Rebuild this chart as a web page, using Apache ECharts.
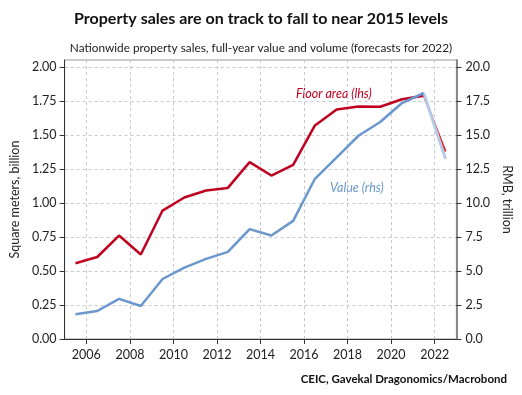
<!DOCTYPE html>
<html>
<head>
<meta charset="utf-8">
<script src="https://cdn.jsdelivr.net/npm/echarts@6/dist/echarts.min.js"></script>
<style>html,body{margin:0;padding:0;background:#fff}#c{width:522px;height:395px}</style>
</head>
<body>
<div id="c"></div>
<script>
// Data points sit mid-year (e.g. 2005.5 = full-year 2005)
var years = [2005.5,2006.5,2007.5,2008.5,2009.5,2010.5,2011.5,2012.5,2013.5,2014.5,2015.5,2016.5,2017.5,2018.5,2019.5,2020.5,2021.5];
var floorArea = [0.558,0.604,0.762,0.622,0.946,1.042,1.094,1.113,1.303,1.204,1.283,1.573,1.690,1.713,1.711,1.766,1.792];
var value = [1.82,2.06,2.96,2.43,4.42,5.26,5.90,6.42,8.09,7.62,8.70,11.80,13.37,14.97,15.98,17.38,18.12];
var forecastYears = [2021.5,2022.5];
var floorAreaForecast = [1.792,1.381];
var valueForecast = [18.12,13.27];
var xTicks = [2006,2008,2010,2012,2014,2016,2018,2020,2022];
var leftTicks = [0,0.25,0.5,0.75,1.0,1.25,1.5,1.75,2.0];
var rightTicks = [0,2.5,5,7.5,10,12.5,15,17.5,20];

function pairs(xs, ys){ return xs.map(function(x,i){ return [x, ys[i]]; }); }

var FONT = 'Lato, "Noto Sans", sans-serif';
var RED = '#c0001f', RED_F = '#e8101e', BLUE = '#6b97cf', BLUE_F = '#b4cbe8';
var chart = echarts.init(document.getElementById('c'), null, {renderer:'canvas'});
var split = {show:true, lineStyle:{color:'#c8c8c8', type:[3,3], width:1}};
chart.setOption({
  animation:false,
  backgroundColor:'#fff',
  textStyle:{fontFamily:FONT},
  title:[
    {text:'Property sales are on track to fall to near 2015 levels', left:'center', top:6,
     textStyle:{fontFamily:FONT, fontSize:16, fontWeight:'bold', color:'#111'}},
    {text:'Nationwide property sales, full-year value and volume (forecasts for 2022)', left:'center', top:37,
     textStyle:{fontFamily:FONT, fontSize:11.8, fontWeight:'normal', color:'#222'}},
    {text:'CEIC, Gavekal Dragonomics/Macrobond', right:10, top:368,
     textStyle:{fontFamily:FONT, fontSize:11.5, fontWeight:'bold', color:'#111'}}
  ],
  grid:{left:51, right:56, top:60, bottom:56, show:true, borderColor:'#999', borderWidth:1, containLabel:false},
  xAxis:{type:'value', min:2005, max:2023,
    axisLine:{show:true, onZero:false, lineStyle:{color:'#333', width:1}},
    axisTick:{show:true, length:5, customValues:xTicks, lineStyle:{color:'#333'}},
    axisLabel:{customValues:xTicks, formatter:function(v){return String(v);}, fontSize:12.5, color:'#222', margin:9, fontFamily:FONT},
    splitLine:split},
  yAxis:[
    {type:'value', min:0, max:2.055, position:'left',
     name:'Square meters, billion', nameLocation:'middle', nameGap:40, nameRotate:90,
     nameTextStyle:{fontSize:12.5, color:'#222', fontFamily:FONT},
     axisLine:{show:true, lineStyle:{color:'#333', width:1}},
     axisTick:{show:true, length:5, customValues:leftTicks, lineStyle:{color:'#333'}},
     axisLabel:{customValues:leftTicks, formatter:function(v){return v.toFixed(2);}, fontSize:12.5, color:'#222', margin:8, fontFamily:FONT},
     splitLine:split},
    {type:'value', min:0, max:20.55, position:'right',
     name:'RMB, trillion', nameLocation:'middle', nameGap:37, nameRotate:-90,
     nameTextStyle:{fontSize:12.5, color:'#222', fontFamily:FONT},
     axisLine:{show:true, lineStyle:{color:'#888', width:2}},
     axisTick:{show:true, length:5, customValues:rightTicks, lineStyle:{color:'#333'}},
     axisLabel:{customValues:rightTicks, formatter:function(v){return v.toFixed(1);}, fontSize:12.5, color:'#222', margin:9, fontFamily:FONT},
     splitLine:{show:false}}
  ],
  series:[
    {type:'line', yAxisIndex:0, data:pairs(forecastYears, floorAreaForecast), showSymbol:false, lineStyle:{color:RED_F, width:2}, z:3},
    {type:'line', yAxisIndex:0, data:pairs(years, floorArea), showSymbol:false, lineStyle:{color:RED, width:2.5}, z:3},
    {type:'line', yAxisIndex:1, data:pairs(forecastYears, valueForecast), showSymbol:false, lineStyle:{color:BLUE_F, width:3}, z:4},
    {type:'line', yAxisIndex:1, data:pairs(years, value), showSymbol:false, lineStyle:{color:BLUE, width:2.5}, z:4}
  ],
  graphic:[
    {type:'text', left:296, top:87, style:{text:'Floor area (lhs)', fill:RED, font:'italic 12.5px '+FONT}},
    {type:'text', left:330, top:181, style:{text:'Value (rhs)', fill:BLUE, font:'italic 12.5px '+FONT}}
  ]
});
</script>
</body>
</html>
